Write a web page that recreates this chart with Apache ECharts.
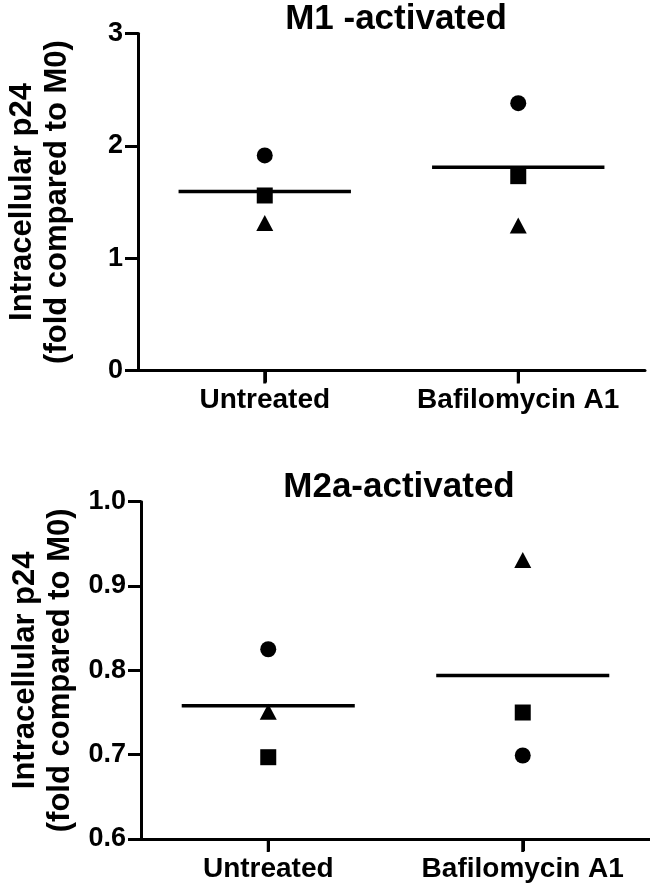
<!DOCTYPE html>
<html>
<head>
<meta charset="utf-8">
<script src="https://cdn.jsdelivr.net/npm/echarts@6/dist/echarts.min.js"></script>
<style>html,body{margin:0;padding:0;background:#fff;}#c{width:650px;height:893px;}</style>
</head>
<body>
<div id="c"></div>
<script>
var categories = ['Untreated', 'Bafilomycin A1'];

var m1Title = 'M1 -activated';
var m1Ticks = [0, 1, 2, 3];
var m1Circle = [1.915, 2.38];
var m1Square = [1.558, 1.73];
var m1Triangle = [1.313, 1.29];
var m1Mean = [1.594, 1.81];

var m2aTitle = 'M2a-activated';
var m2aTicks = [0.6, 0.7, 0.8, 0.9, 1.0];
var m2aCircle = [0.825, 0.699];
var m2aSquare = [0.697, 0.750];
var m2aTriangle = [0.751, 0.931];
var m2aMean = [0.758, 0.794];

var yName = 'Intracellular p24\n(fold compared to M0)';

var FONT = '"Liberation Sans", Arial, Helvetica, sans-serif';
var BLACK = '#000';

function xAxis(gi) {
  return {
    type: 'category', gridIndex: gi, data: categories, boundaryGap: true,
    axisLine: { show: true, onZero: false, lineStyle: { color: BLACK, width: 3 } },
    axisTick: { show: true, inside: false, alignWithLabel: true, length: 12,
      lineStyle: { color: BLACK, width: 3, opacity: 1 } },
    axisLabel: { show: true, interval: 0, color: BLACK, fontFamily: FONT, fontWeight: 'bold', fontSize: 28, margin: 16 },
    splitLine: { show: false }
  };
}
function yAxis(gi, ticks, dec) {
  return {
    type: 'value', gridIndex: gi,
    min: ticks[0], max: ticks[ticks.length - 1],
    interval: +(ticks[1] - ticks[0]).toFixed(3),
    axisLine: { show: true, lineStyle: { color: BLACK, width: 3 } },
    axisTick: { show: true, length: 13, lineStyle: { color: BLACK, width: 3 } },
    axisLabel: { color: BLACK, fontFamily: FONT, fontWeight: 'bold', fontSize: 27, margin: 15,
      formatter: function (v) { return (+v).toFixed(dec); } },
    splitLine: { show: false },
    name: yName, nameLocation: 'middle', nameRotate: 90, nameGap: 63,
    nameTextStyle: { color: BLACK, fontFamily: FONT, fontWeight: 'bold', fontSize: 31, lineHeight: 35 }
  };
}
function scatter(gi, sym, data) {
  return {
    type: 'scatter', xAxisIndex: gi, yAxisIndex: gi, symbol: sym, symbolSize: sym === 'triangle' ? [17, 16] : 16,
    itemStyle: { color: BLACK, opacity: 1 }, data: data, z: 5, silent: true
  };
}
// mean bar per category, plus the category tick mark below the x axis
function meanSeries(gi, data, yMin) {
  return {
    type: 'custom', xAxisIndex: gi, yAxisIndex: gi, z: 4, silent: true, clip: false,
    data: data.map(function (v, i) { return [i, v]; }),
    renderItem: function (params, api) {
      var p = api.coord([api.value(0), api.value(1)]);
      var b = api.coord([api.value(0), yMin]);
      var bw = api.size([1, 0])[0];
      var h = bw * 0.34;
      return { type: 'group', children: [
        { type: 'line', shape: { x1: p[0] - h, y1: p[1], x2: p[0] + h, y2: p[1] },
          style: { stroke: BLACK, lineWidth: 3.5 } },
        { type: 'line', shape: { x1: b[0], y1: b[1], x2: b[0], y2: b[1] + 13 },
          style: { stroke: BLACK, lineWidth: 3 } }
      ] };
    }
  };
}

var chart = echarts.init(document.getElementById('c'), null, { renderer: 'canvas' });
chart.setOption({
  backgroundColor: '#fff',
  animation: false,
  title: [
    { text: m1Title, left: 391, top: -3, textAlign: 'center',
      textStyle: { color: BLACK, fontFamily: FONT, fontWeight: 'bold', fontSize: 35 } },
    { text: m2aTitle, left: 394, top: 465, textAlign: 'center',
      textStyle: { color: BLACK, fontFamily: FONT, fontWeight: 'bold', fontSize: 35 } }
  ],
  grid: [
    { left: 138, right: 5, top: 33.5, bottom: 522.5, containLabel: false, outerBoundsMode: 'none' },
    { left: 141, right: 0, top: 501.7, bottom: 54, containLabel: false, outerBoundsMode: 'none' }
  ],
  xAxis: [xAxis(0), xAxis(1)],
  yAxis: [yAxis(0, m1Ticks, 0), yAxis(1, m2aTicks, 1)],
  series: [
    meanSeries(0, m1Mean, m1Ticks[0]),
    scatter(0, 'circle', m1Circle.map(function (v, i) { return [i, v]; })),
    scatter(0, 'rect', m1Square.map(function (v, i) { return [i, v]; })),
    scatter(0, 'triangle', m1Triangle.map(function (v, i) { return [i, v]; })),
    meanSeries(1, m2aMean, m2aTicks[0]),
    scatter(1, 'circle', m2aCircle.map(function (v, i) { return [i, v]; })),
    scatter(1, 'rect', m2aSquare.map(function (v, i) { return [i, v]; })),
    scatter(1, 'triangle', m2aTriangle.map(function (v, i) { return [i, v]; }))
  ]
});
</script>
</body>
</html>
